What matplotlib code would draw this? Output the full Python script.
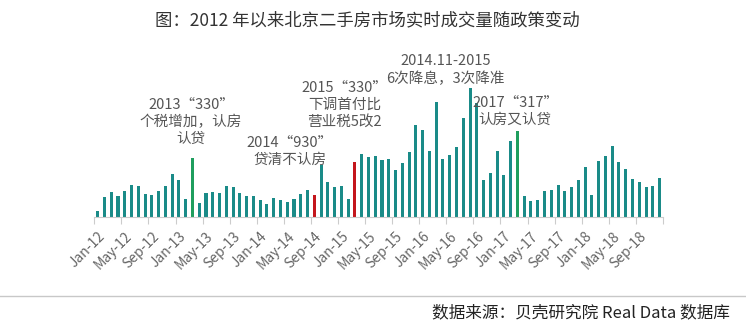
import numpy as np
import matplotlib.pyplot as plt
from matplotlib.lines import Line2D

plt.rcParams['font.family'] = ['Noto Sans CJK SC', 'DejaVu Sans']

# 北京二手房月度成交量（相对高度，读自原图）
months = ['Jan', 'Feb', 'Mar', 'Apr', 'May', 'Jun', 'Jul', 'Aug', 'Sep', 'Oct', 'Nov', 'Dec']
years = ['12', '13', '14', '15', '16', '17', '18']
volumes = [6, 20, 25, 21, 26, 32, 31, 23, 22, 26, 31, 43,     # 2012
           37, 18, 59, 14, 24, 25, 24, 31, 30, 24, 21, 21,    # 2013
           17, 13, 19, 17, 15, 18, 23, 27, 22, 52, 35, 30,    # 2014
           31, 18, 55, 63, 60, 61, 57, 58, 47, 54, 65, 92,    # 2015
           87, 66, 115, 58, 62, 70, 99, 129, 114, 37, 44, 66,  # 2016
           42, 76, 86, 21, 16, 17, 26, 27, 32, 26, 30, 37,    # 2017
           50, 22, 56, 61, 71, 55, 48, 38, 35, 30, 31, 39]    # 2018
labels = [m + '-' + y for y in years for m in months]

# 政策节点
policy_green = ['Mar-13', 'Mar-17']
policy_red = ['Sep-14', 'Mar-15']

teal = '#1a8b88'
green = '#1f9e5e'
red = '#c4161c'
colors = []
for lab in labels:
    if lab in policy_green:
        colors.append(green)
    elif lab in policy_red:
        colors.append(red)
    else:
        colors.append(teal)

fig = plt.figure(figsize=(7.46, 3.35), dpi=100)
ax = fig.add_axes([0.1264, 0.3522, 0.7623, 0.4478])

x = np.arange(len(volumes))
ax.bar(x, volumes, width=0.45, color=colors)
ax.set_xlim(-0.5, len(volumes) - 0.5)
ax.set_ylim(0, 150)

for s in ['top', 'right', 'left']:
    ax.spines[s].set_visible(False)
ax.spines['bottom'].set_color('#cccccc')
ax.set_yticks([])

# 刻度线在分组边界，标签在每隔4个月
ax.set_xticks(np.arange(-0.5, len(volumes), 4))
ax.set_xticklabels([])
ax.tick_params(axis='x', which='major', length=5, color='#cccccc')
ax.set_xticks(x[::4], minor=True)
ax.set_xticklabels(labels[::4], minor=True, rotation=45, ha='right', va='top',
                   rotation_mode='anchor', fontsize=10, color='#666666')
ax.tick_params(axis='x', which='minor', length=0, pad=9)

note = dict(ha='center', va='center', fontsize=10.5, color='#555555',
            linespacing=1.25, clip_on=False)
ax.text(13.8, 95, '2013“330”\n个税增加，认房\n认贷', **note)
ax.text(28.4, 66, '2014“930”\n贷清不认房', **note)
ax.text(36.5, 112, '2015“330”\n下调首付比\n营业税5改2', **note)
ax.text(51.4, 147, '2014.11-2015\n6次降息，3次降准', **note)
ax.text(61.7, 106, '2017“317”\n认房又认贷', **note)

fig.text(0.492, 1 - 20 / 335, '图：2012 年以来北京二手房市场实时成交量随政策变动',
         ha='center', va='center', fontsize=12.5, color='#333333')
fig.add_artist(Line2D([0, 1], [1 - 296 / 335] * 2, color='#c8c8c8', lw=1))
fig.text(730 / 746, 1 - 313 / 335, '数据来源：贝壳研究院 Real Data 数据库',
         ha='right', va='center', fontsize=12, color='#222222')

fig.savefig('out.png', dpi=100)
